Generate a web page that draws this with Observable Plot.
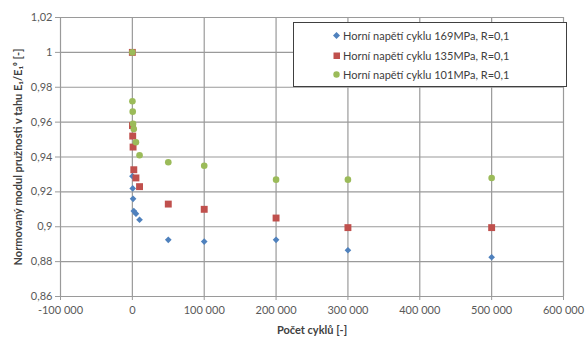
<!DOCTYPE html>
<html><head><meta charset="utf-8">
<script src="https://cdn.jsdelivr.net/npm/d3@7"></script>
<script src="https://cdn.jsdelivr.net/npm/@observablehq/plot@0.6"></script>
<style>
body{margin:0;background:#fff;}
#wrap{position:relative;width:587px;height:343px;font-family:Lato,"Open Sans",sans-serif;}
#legend{position:absolute;left:293px;top:22px;width:274px;height:65px;border:1.5px solid #404040;background:#fff;box-sizing:border-box;padding-top:3px;}
.row{position:relative;height:19.5px;line-height:19.5px;font-size:11px;color:#404040;padding-left:49px;white-space:nowrap;}
.row svg{position:absolute;left:39px;top:6px;}
</style></head>
<body><div id="wrap"><div id="legend"></div></div>
<script>
const cycles = [0, 100, 500, 1000, 2000, 5000, 10000, 50000, 100000, 200000, 300000, 500000];
const e169 = [1, 0.929, 0.922, 0.916, 0.909, 0.9075, 0.904, 0.8925, 0.8915, 0.8925, 0.8865, 0.8825];
const e135 = [1, 0.958, 0.952, 0.9457, 0.9327, 0.928, 0.923, 0.913, 0.910, 0.905, 0.8995, 0.8995];
const e101 = [1, 0.972, 0.966, 0.959, 0.956, 0.9485, 0.941, 0.937, 0.935, 0.927, 0.927, 0.928];
const seriesNames = ["Horní napětí cyklu 169MPa, R=0,1", "Horní napětí cyklu 135MPa, R=0,1", "Horní napětí cyklu 101MPa, R=0,1"];
const colors = ["#4f81bd", "#c0504d", "#9bbb59"];
const xTicks = [-100000, 0, 100000, 200000, 300000, 400000, 500000, 600000];
const yTicks = [0.86, 0.88, 0.9, 0.92, 0.94, 0.96, 0.98, 1, 1.02];
const xLabel = "Počet cyklů [-]";
const yLabel = "Normovaný modul pružnosti v tahu E₁/E₁⁰ [-]";

const loc = d3.formatLocale({decimal: ",", thousands: " ", grouping: [3], currency: ["", ""], minus: "-"});
const fx = loc.format(",d");
const fy = d => String(d).replace(".", ",");

const mk = arr => cycles.map((c, i) => ({x: c, y: arr[i]}));
const d169 = mk(e169), d135 = mk(e135), d101 = mk(e101);

const grid = "#9a9a9a";
const chart = Plot.plot({
  width: 587, height: 343,
  marginLeft: 60, marginRight: 24, marginTop: 17, marginBottom: 47,
  style: {fontFamily: "Lato, 'Open Sans', sans-serif", fontSize: "11px", color: "#595959", background: "#fff"},
  x: {domain: [-100000, 600000], ticks: xTicks},
  y: {domain: [0.86, 1.02], ticks: yTicks},
  marks: [
    Plot.gridX(xTicks, {stroke: grid, strokeOpacity: 1, strokeWidth: 1.2}),
    Plot.gridY(yTicks, {stroke: grid, strokeOpacity: 1, strokeWidth: 1.2}),
    Plot.axisX(xTicks, {tickFormat: fx, tickSize: 4, tickPadding: 6, stroke: grid, label: null, fill: "#595959"}),
    Plot.axisY(yTicks, {tickFormat: fy, tickSize: 5, tickPadding: 3, stroke: grid, label: null, fill: "#595959"}),
    Plot.dot(d169, {x: "x", y: "y", symbol: "diamond2", r: 3, fill: colors[0], stroke: null}),
    Plot.dot(d135, {x: "x", y: "y", symbol: "square", r: 3.9, fill: colors[1], stroke: null}),
    Plot.dot(d101, {x: "x", y: "y", symbol: "circle", r: 3.3, fill: colors[2], stroke: null}),
    Plot.text([xLabel], {frameAnchor: "bottom", dy: 37, fontWeight: "bold", fontSize: 11, fill: "#404040"}),
    Plot.text([yLabel], {frameAnchor: "left", textAnchor: "middle", dx: -42, rotate: -90, fontWeight: "bold", fontSize: 11, fill: "#404040"})
  ]
});
const wrap = document.getElementById("wrap");
wrap.insertBefore(chart, wrap.firstChild);

const shapes = [
  c => `<polygon points="3.5,0 7,3.5 3.5,7 0,3.5" fill="${c}"/>`,
  c => `<rect x="0.5" y="0.5" width="6.5" height="6.5" fill="${c}"/>`,
  c => `<circle cx="3.5" cy="3.5" r="3.2" fill="${c}"/>`
];
const legend = document.getElementById("legend");
seriesNames.forEach((n, i) => {
  const row = document.createElement("div");
  row.className = "row";
  row.innerHTML = `<svg width="7" height="7">${shapes[i](colors[i])}</svg>${n}`;
  legend.appendChild(row);
});
</script>
</body></html>
